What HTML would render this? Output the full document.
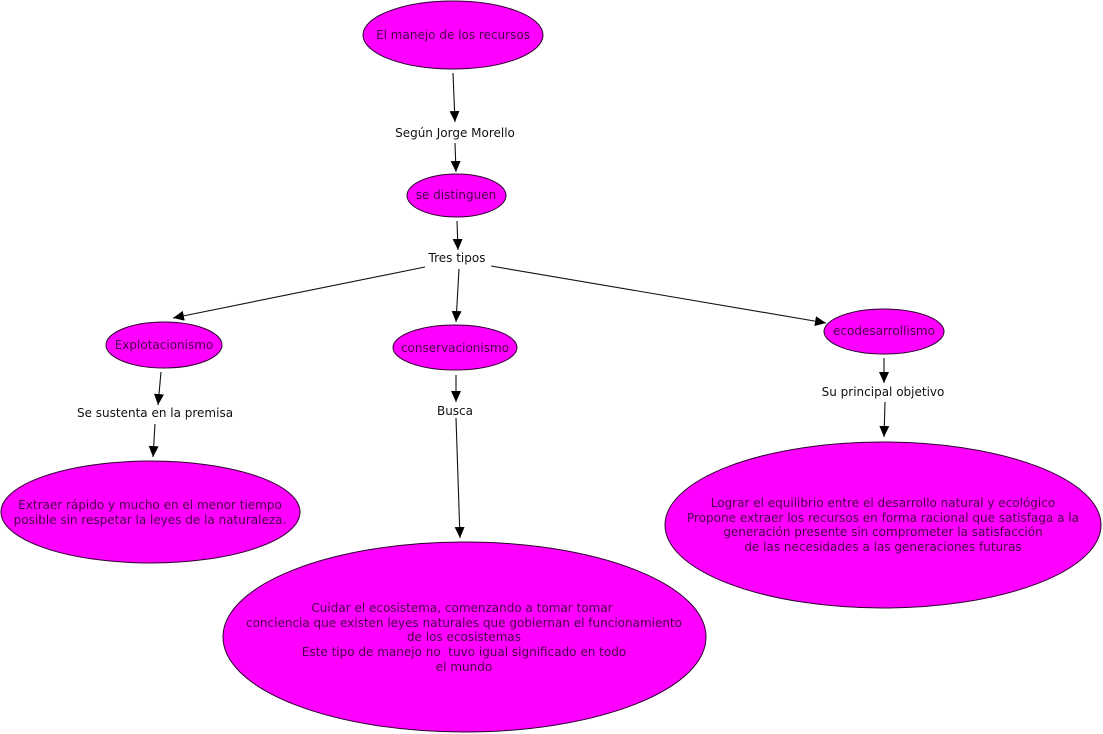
<!DOCTYPE html>
<html>
<head>
<meta charset="utf-8">
<style>
html,body{margin:0;padding:0;background:#fff;}
svg{display:block;}
text{font-family:"DejaVu Sans","Liberation Sans",sans-serif;font-size:12px;text-anchor:middle;}
.n{fill:#4a004a;}
.l{fill:#111;}
ellipse{fill:#ff00ff;stroke:#2a002a;stroke-width:1;}
line{stroke:#111;stroke-width:1.1;}
</style>
</head>
<body>
<svg width="1103" height="734" viewBox="0 0 1103 734" xmlns="http://www.w3.org/2000/svg">
<defs>
<marker id="a" markerUnits="userSpaceOnUse" markerWidth="12" markerHeight="10" refX="11" refY="5" orient="auto">
<path d="M0,0 L11,5 L0,10 z" fill="#000"/>
</marker>
</defs>

<!-- connectors -->
<line x1="453" y1="73" x2="455" y2="122" marker-end="url(#a)"/>
<line x1="455" y1="143" x2="456" y2="172" marker-end="url(#a)"/>
<line x1="457" y1="221" x2="458" y2="250" marker-end="url(#a)"/>
<line x1="425" y1="267" x2="173" y2="318" marker-end="url(#a)"/>
<line x1="459" y1="269" x2="456" y2="322" marker-end="url(#a)"/>
<line x1="491" y1="266" x2="826" y2="323" marker-end="url(#a)"/>
<line x1="161" y1="372" x2="158" y2="405" marker-end="url(#a)"/>
<line x1="155" y1="424" x2="153" y2="457" marker-end="url(#a)"/>
<line x1="456" y1="375" x2="456" y2="402" marker-end="url(#a)"/>
<line x1="456" y1="418" x2="460" y2="538" marker-end="url(#a)"/>
<line x1="884" y1="358" x2="884" y2="383" marker-end="url(#a)"/>
<line x1="885" y1="402" x2="884" y2="437" marker-end="url(#a)"/>

<!-- nodes -->
<ellipse cx="453" cy="35" rx="90" ry="34"/>
<text class="n" x="453" y="39">El manejo de los recursos</text>

<text class="l" x="455" y="137">Según Jorge Morello</text>

<ellipse cx="456.5" cy="195.5" rx="49.5" ry="21.5"/>
<text class="n" x="456" y="199">se distinguen</text>

<text class="l" x="457" y="262">Tres tipos</text>

<ellipse cx="164" cy="345" rx="58" ry="23"/>
<text class="n" x="164" y="349">Explotacionismo</text>

<text class="l" x="155" y="417">Se sustenta en la premisa</text>

<ellipse cx="150.5" cy="512" rx="149.5" ry="51"/>
<text class="n" x="150" y="509">Extraer rápido y mucho en el menor tiempo</text>
<text class="n" x="150" y="524">posible sin respetar la leyes de la naturaleza.</text>

<ellipse cx="455" cy="347.5" rx="62" ry="22.5"/>
<text class="n" x="455" y="352">conservacionismo</text>

<text class="l" x="455" y="415">Busca</text>

<ellipse cx="464.5" cy="637" rx="241.5" ry="95"/>
<text class="n" x="462" y="612">Cuidar el ecosistema, comenzando a tomar tomar</text>
<text class="n" x="464" y="627">conciencia que existen leyes naturales que gobiernan el funcionamiento</text>
<text class="n" x="464" y="641">de los ecosistemas</text>
<text class="n" x="464" y="656" xml:space="preserve">Este tipo de manejo no  tuvo igual significado en todo</text>
<text class="n" x="464" y="671">el mundo</text>

<ellipse cx="884" cy="331.5" rx="60" ry="22.5"/>
<text class="n" x="884" y="335">ecodesarrollismo</text>

<text class="l" x="883" y="396">Su principal objetivo</text>

<ellipse cx="883" cy="525" rx="218" ry="83"/>
<text class="n" x="883" y="507">Lograr el equilibrio entre el desarrollo natural y ecológico</text>
<text class="n" x="883" y="522">Propone extraer los recursos en forma racional que satisfaga a la</text>
<text class="n" x="883" y="536">generación presente sin comprometer la satisfacción</text>
<text class="n" x="883" y="551">de las necesidades a las generaciones futuras</text>
</svg>
</body>
</html>
